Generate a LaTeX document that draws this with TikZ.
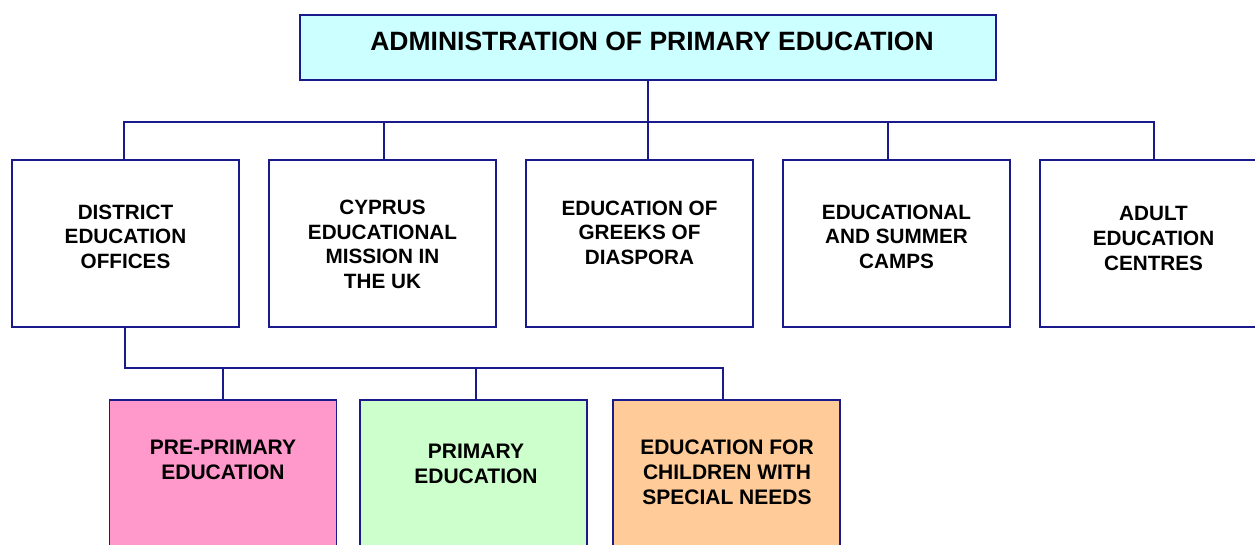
\documentclass[tikz,border=0pt]{standalone}
\usepackage{fontspec}
\setmainfont{Liberation Sans}
\definecolor{navy}{HTML}{1A1A8C}
\definecolor{cyanfill}{HTML}{CCFFFF}
\definecolor{pinkfill}{HTML}{FF99CC}
\definecolor{greenfill}{HTML}{CCFFCC}
\definecolor{orangefill}{HTML}{FFCC99}
\tikzset{
  box/.style={draw=navy, line width=1.6pt, fill=white, inner sep=0pt, minimum width=227pt, minimum height=167pt},
  lowbox/.style={box, minimum height=160pt},
  titlebox/.style={draw=navy, line width=1.6pt, fill=cyanfill, inner sep=0pt, minimum width=696pt, minimum height=65pt},
  conn/.style={draw=navy, line width=1.6pt},
  rowtext/.style={align=center, inner sep=0pt, font=\bfseries\fontsize{20.7}{24.6}\selectfont},
  lowtext/.style={align=center, inner sep=0pt, font=\bfseries\fontsize{21}{25}\selectfont},
}
\begin{document}
\begin{tikzpicture}[x=1pt,y=-1pt]
\useasboundingbox (0,0) rectangle (1255,544);
\clip (0,0) rectangle (1255,544);
\fill[white] (0,0) rectangle (1255,544);
% title
\node[titlebox] (title) at (648,47.5) {};
\node[inner sep=0pt, font=\bfseries\fontsize{26.5}{30}\selectfont] (titletxt) at (652,41.3) {ADMINISTRATION OF PRIMARY EDUCATION};
% second row
\node[box] (b1) at (125.5,243.5) {};
\node[box] (b2) at (382.5,243.5) {};
\node[box] (b3) at (639.5,243.5) {};
\node[box] (b4) at (896.5,243.5) {};
\node[box] (b5) at (1153.5,243.5) {};
\node[rowtext] (t1) at (125.5,236.5) {DISTRICT\\EDUCATION\\OFFICES};
\node[rowtext] (t2) at (382.5,244.5) {CYPRUS\\EDUCATIONAL\\MISSION IN\\THE UK};
\node[rowtext] (t3) at (639.5,232.5) {EDUCATION OF\\GREEKS OF\\DIASPORA};
\node[rowtext] (t4) at (896.5,236.5) {EDUCATIONAL\\AND SUMMER\\CAMPS};
\node[rowtext] (t5) at (1153.5,238.5) {ADULT\\EDUCATION\\CENTRES};
% third row
\node[lowbox, fill=pinkfill] (c1) at (223,480) {};
\node[lowbox, fill=greenfill] (c2) at (473.5,480) {};
\node[lowbox, fill=orangefill] (c3) at (726.5,480) {};
\node[lowtext] (u1) at (223,460) {PRE-PRIMARY\\EDUCATION};
\node[lowtext] (u2) at (476,464) {PRIMARY\\EDUCATION};
\node[lowtext] (u3) at (727,472.5) {EDUCATION FOR\\CHILDREN WITH\\SPECIAL NEEDS};
% connectors
\coordinate (bus) at (648,122);
\coordinate (lowbus) at (125,368);
\draw[conn] (title.south) -- (bus);
\draw[conn] ([xshift=-1.5pt]b1.north) |- (bus) -| ([xshift=0.5pt]b5.north);
\draw[conn] ([xshift=1.5pt]b2.north) -- ([xshift=1.5pt]b2.north |- bus);
\draw[conn] ([xshift=8.5pt]b3.north) -- ([xshift=8.5pt]b3.north |- bus);
\draw[conn] ([xshift=-8.5pt]b4.north) -- ([xshift=-8.5pt]b4.north |- bus);
\draw[conn] ([xshift=-0.5pt]b1.south) -- (lowbus) -| ([xshift=-3.5pt]c3.north);
\draw[conn] (c1.north) -- (c1.north |- lowbus);
\draw[conn] ([xshift=2.5pt]c2.north) -- ([xshift=2.5pt]c2.north |- lowbus);
\end{tikzpicture}
\end{document}
